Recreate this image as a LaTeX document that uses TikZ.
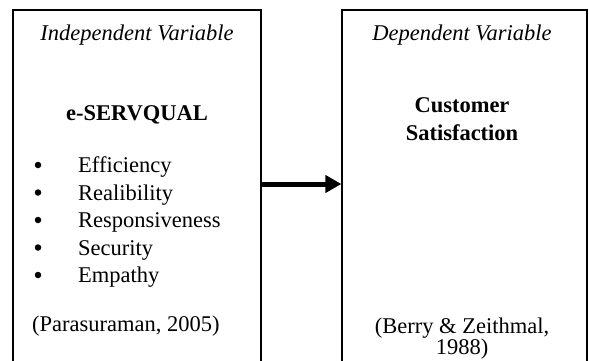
\documentclass[tikz,border=0pt]{standalone}
\usepackage{fontspec}
\setmainfont{Liberation Serif}
\usetikzlibrary{arrows.meta}
\begin{document}
\begin{tikzpicture}[x=1pt,y=-1pt,
  box/.style={draw, line width=1.2pt, minimum width=#1, minimum height=360pt, inner sep=0pt},
  txt/.style={inner sep=0pt, font=\fontsize{22.5}{27.5}\selectfont},
  item/.style={txt, anchor=base west},
  bul/.style={circle, fill=black, inner sep=0pt, minimum size=6.5pt}]
\clip (0,0) rectangle (589,360);
\node[box=248pt] (L) at (137,190) {};
\node[box=245pt] (R) at (464.5,190) {};
\draw[line width=5pt, -{Triangle[length=16pt,width=17pt]}] (L.east |- 0,184) -- (R.west |- 0,184);
% left texts
\node[txt, anchor=base, font=\fontsize{22.5}{27.5}\selectfont\itshape] (lt) at (137,40) {Independent Variable};
\node[txt, anchor=base, font=\fontsize{22.5}{27.5}\selectfont\bfseries] (lh) at (137,120) {e-SERVQUAL};
\foreach \t [count=\k] in {Efficiency,Realibility,Responsiveness,Security,Empathy}{
  \node[bul] (b\k) at (38,{145+27.5*\k-7.5}) {};
  \node[item] (i\k) at (78,{145+27.5*\k}) {\t};
}
\node[item] (lc) at (32,331) {(Parasuraman, 2005)};
% right texts
\node[txt, anchor=base, font=\fontsize{22.5}{27.5}\selectfont\itshape] (rt) at (462,40) {Dependent Variable};
\node[txt, anchor=base, font=\fontsize{22.5}{27.5}\selectfont\bfseries] (rh1) at (462,112) {Customer};
\node[txt, anchor=base, font=\fontsize{22.5}{27.5}\selectfont\bfseries] (rh2) at (462,140) {Satisfaction};
\node[txt, anchor=base] (rc1) at (462,333) {(Berry \& Zeithmal,};
\node[txt, anchor=base] (rc2) at (462,354) {1988)};
\end{tikzpicture}
\end{document}
